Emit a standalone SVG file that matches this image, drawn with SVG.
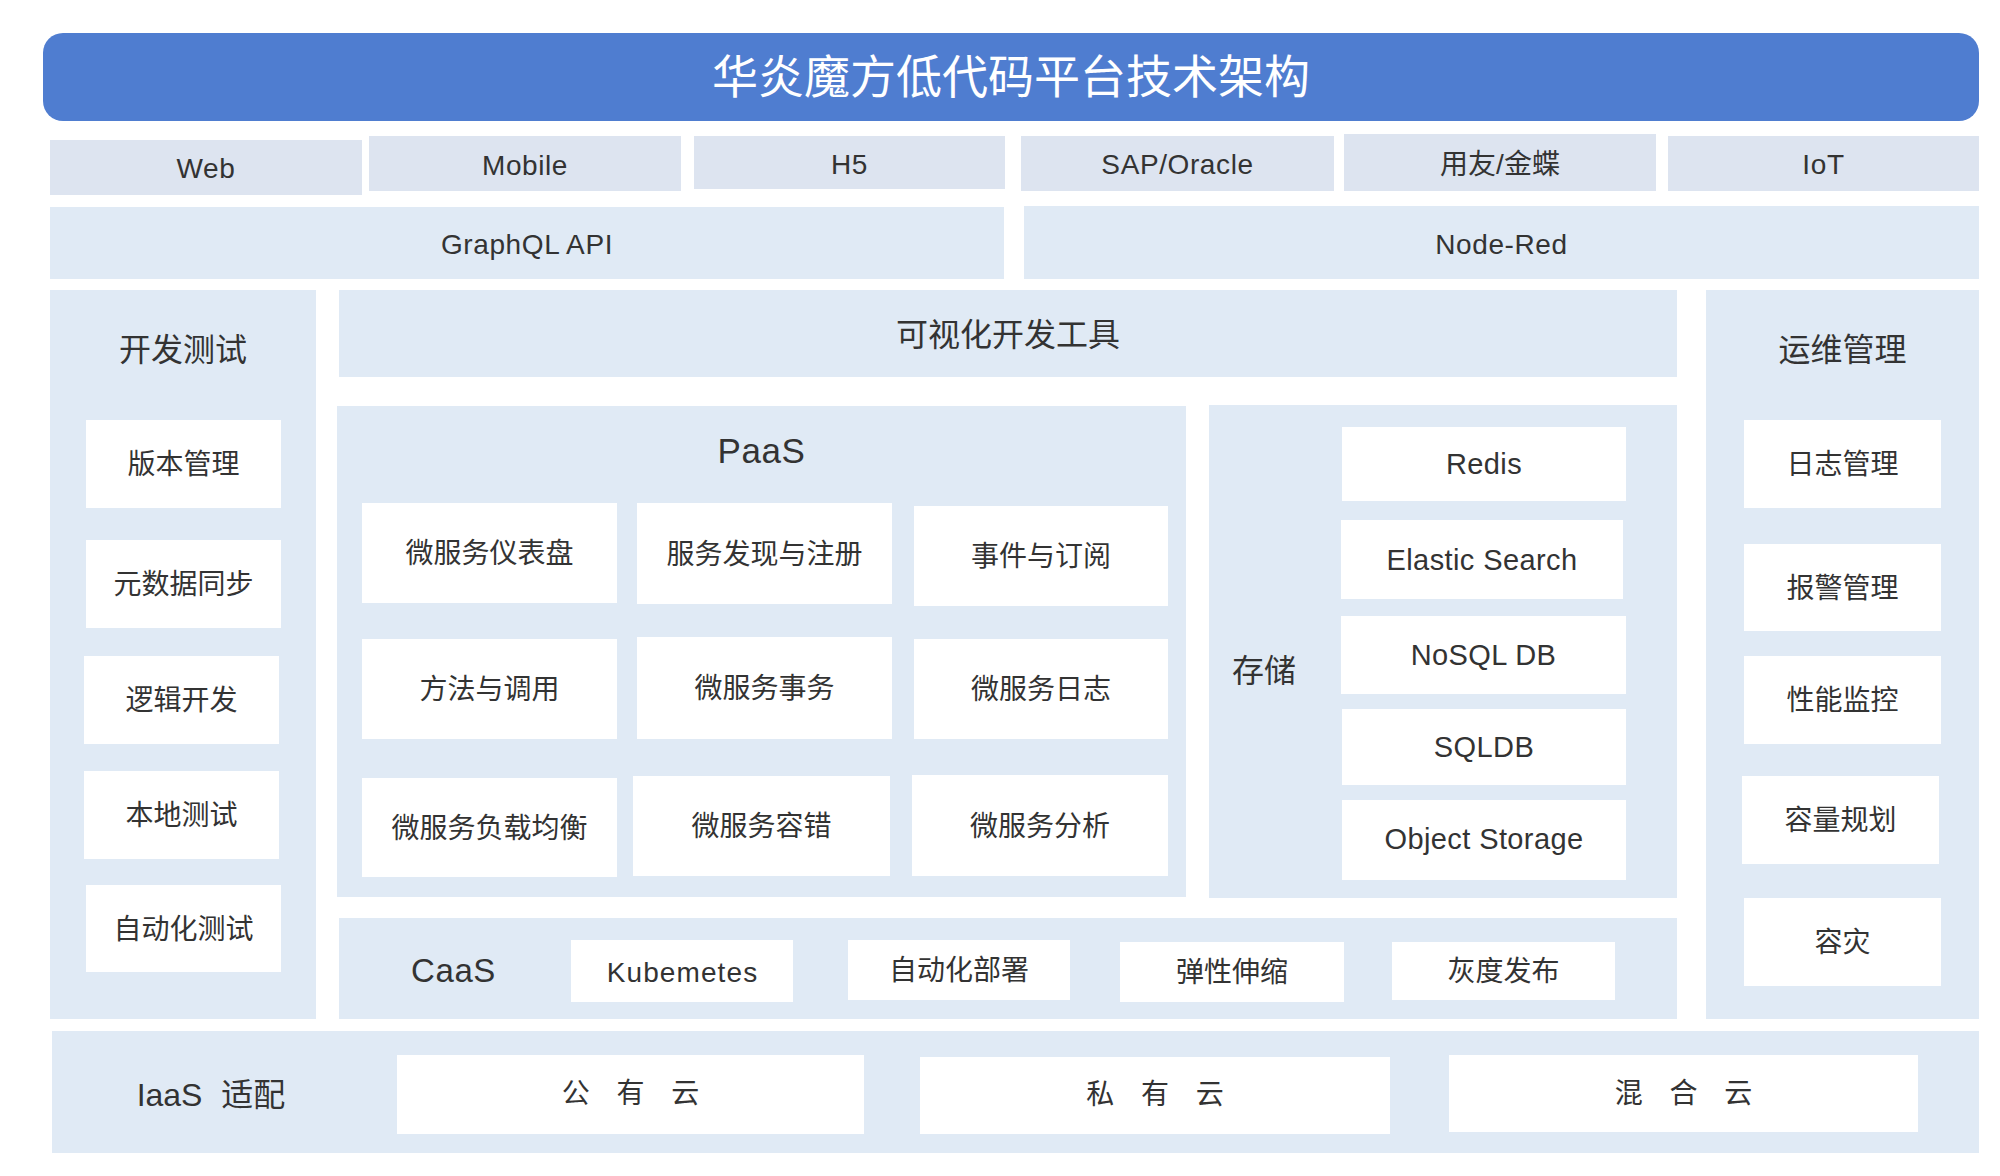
<svg xmlns="http://www.w3.org/2000/svg" width="2000" height="1176" viewBox="0 0 2000 1176">
<style>
text{font-family:"Liberation Sans","Noto Sans CJK SC",sans-serif;fill:#333;text-anchor:middle;font-size:28px}
.hdr{fill:#4f7dd0}
.cli{fill:#dde4f0}
.pnl{fill:#e0eaf5}
.box{fill:#ffffff}
.title{fill:#ffffff;font-size:46px}
.h{font-size:32px}
.lat{font-size:29px;letter-spacing:0.4px}
.en{letter-spacing:0.6px}
.cloud{word-spacing:19px}
</style>
<rect width="2000" height="1176" fill="#ffffff"/>
<g id="title"><rect class="hdr" x="43" y="33" width="1936" height="88" rx="20"/><text class="title" x="1011" y="93">华炎魔方低代码平台技术架构</text></g>
<g id="web"><rect class="cli" x="50" y="140" width="312" height="55"/><text class="en" x="206" y="178">Web</text></g>
<g id="mobile"><rect class="cli" x="369" y="136" width="312" height="55"/><text class="en" x="525" y="175">Mobile</text></g>
<g id="h5"><rect class="cli" x="694" y="136" width="311" height="53"/><text class="en" x="849.5" y="174">H5</text></g>
<g id="sap"><rect class="cli" x="1021" y="136" width="313" height="55"/><text class="en" x="1177.5" y="174">SAP/Oracle</text></g>
<g id="yonyou"><rect class="cli" x="1344" y="134" width="312" height="57"/><text x="1500" y="174">用友/金蝶</text></g>
<g id="iot"><rect class="cli" x="1668" y="136" width="311" height="55"/><text class="en" x="1823.5" y="174">IoT</text></g>
<g id="graphql"><rect class="pnl" x="50" y="207" width="954" height="72"/><text class="en" x="527" y="254">GraphQL API</text></g>
<g id="nodered"><rect class="pnl" x="1024" y="206" width="955" height="73"/><text class="en" x="1501.5" y="254">Node-Red</text></g>
<g id="devtest"><rect class="pnl" x="50" y="290" width="266" height="729"/><text class="h" x="183" y="361">开发测试</text></g>
<g id="ver"><rect class="box" x="86" y="420" width="195" height="88"/><text x="183.5" y="474">版本管理</text></g>
<g id="meta"><rect class="box" x="86" y="540" width="195" height="88"/><text x="183.5" y="594">元数据同步</text></g>
<g id="logic"><rect class="box" x="84" y="656" width="195" height="88"/><text x="181.5" y="710">逻辑开发</text></g>
<g id="localtest"><rect class="box" x="84" y="771" width="195" height="88"/><text x="181.5" y="825">本地测试</text></g>
<g id="autotest"><rect class="box" x="86" y="885" width="195" height="87"/><text x="183.5" y="938.5">自动化测试</text></g>
<g id="ops"><rect class="pnl" x="1706" y="290" width="273" height="729"/><text class="h" x="1842.5" y="361">运维管理</text></g>
<g id="logmgr"><rect class="box" x="1744" y="420" width="197" height="88"/><text x="1842.5" y="474">日志管理</text></g>
<g id="alarm"><rect class="box" x="1744" y="544" width="197" height="87"/><text x="1842.5" y="597.5">报警管理</text></g>
<g id="perf"><rect class="box" x="1744" y="656" width="197" height="88"/><text x="1842.5" y="710">性能监控</text></g>
<g id="capacity"><rect class="box" x="1742" y="776" width="197" height="88"/><text x="1840.5" y="830">容量规划</text></g>
<g id="dr"><rect class="box" x="1744" y="898" width="197" height="88"/><text x="1842.5" y="952">容灾</text></g>
<g id="visual"><rect class="pnl" x="339" y="290" width="1338" height="87"/><text class="h" x="1008" y="346">可视化开发工具</text></g>
<g id="paas"><rect class="pnl" x="337" y="406" width="849" height="491"/><text class="en" x="761.5" y="463" style="font-size:35px">PaaS</text></g>
<g id="dash"><rect class="box" x="362" y="503" width="255" height="100"/><text x="489.5" y="563">微服务仪表盘</text></g>
<g id="discovery"><rect class="box" x="637" y="503" width="255" height="101"/><text x="764.5" y="563.5">服务发现与注册</text></g>
<g id="event"><rect class="box" x="914" y="506" width="254" height="100"/><text x="1041" y="566">事件与订阅</text></g>
<g id="method"><rect class="box" x="362" y="639" width="255" height="100"/><text x="489.5" y="699">方法与调用</text></g>
<g id="tx"><rect class="box" x="637" y="637" width="255" height="102"/><text x="764.5" y="698">微服务事务</text></g>
<g id="mslog"><rect class="box" x="914" y="639" width="254" height="100"/><text x="1041" y="699">微服务日志</text></g>
<g id="lb"><rect class="box" x="362" y="778" width="255" height="99"/><text x="489.5" y="837.5">微服务负载均衡</text></g>
<g id="fault"><rect class="box" x="633" y="776" width="257" height="100"/><text x="761.5" y="836">微服务容错</text></g>
<g id="analysis"><rect class="box" x="912" y="775" width="256" height="101"/><text x="1040" y="835.5">微服务分析</text></g>
<g id="storage"><rect class="pnl" x="1209" y="405" width="468" height="493"/><text class="h" x="1264" y="682">存储</text></g>
<g id="redis"><rect class="box" x="1342" y="427" width="284" height="74"/><text class="lat" x="1484" y="474">Redis</text></g>
<g id="es"><rect class="box" x="1341" y="520" width="282" height="79"/><text class="lat" x="1482" y="569.5">Elastic Search</text></g>
<g id="nosql"><rect class="box" x="1341" y="616" width="285" height="78"/><text class="lat" x="1483.5" y="665">NoSQL DB</text></g>
<g id="sqldb"><rect class="box" x="1342" y="709" width="284" height="76"/><text class="lat" x="1484" y="757">SQLDB</text></g>
<g id="oss"><rect class="box" x="1342" y="800" width="284" height="80"/><text class="lat" x="1484" y="849">Object Storage</text></g>
<g id="caas"><rect class="pnl" x="339" y="918" width="1338" height="101"/><text class="en" x="453.5" y="982" style="font-size:33px">CaaS</text></g>
<g id="k8s"><rect class="box" x="571" y="940" width="222" height="62"/><text x="682.5" y="981.5" style="letter-spacing:1.1px">Kubemetes</text></g>
<g id="deploy"><rect class="box" x="848" y="940" width="222" height="60"/><text x="959" y="980">自动化部署</text></g>
<g id="scale"><rect class="box" x="1120" y="942" width="224" height="60"/><text x="1232" y="982">弹性伸缩</text></g>
<g id="gray"><rect class="box" x="1392" y="942" width="223" height="58"/><text x="1503.5" y="981">灰度发布</text></g>
<g id="iaas"><rect class="pnl" x="52" y="1031" width="1927" height="122"/><text class="h" x="211" y="1106" style="word-spacing:10px">IaaS 适配</text></g>
<g id="public"><rect class="box" x="397" y="1055" width="467" height="79"/><text class="cloud" x="630.5" y="1103">公 有 云</text></g>
<g id="private"><rect class="box" x="920" y="1057" width="470" height="77"/><text class="cloud" x="1155" y="1104">私 有 云</text></g>
<g id="hybrid"><rect class="box" x="1449" y="1055" width="469" height="77"/><text class="cloud" x="1683.5" y="1103">混 合 云</text></g>
</svg>
